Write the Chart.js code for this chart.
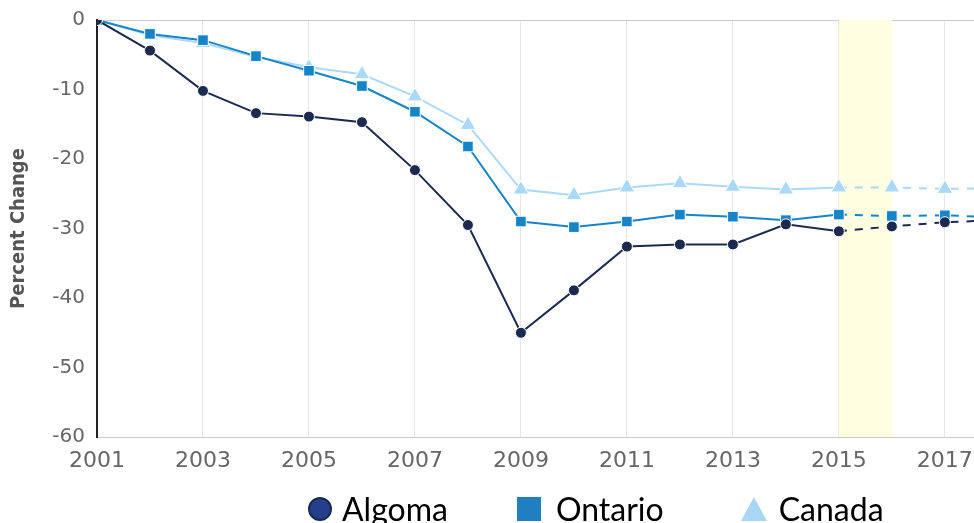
<!DOCTYPE html>
<html>
<head>
<meta charset="utf-8">
<script src="https://cdn.jsdelivr.net/npm/chart.js@4"></script>
<style>
  html, body { margin: 0; padding: 0; background: #fff; overflow: hidden; }
  #wrap { width: 974px; height: 523px; position: relative; }
  #legend { position: absolute; top: 493px; left: 308px; display: flex; align-items: center;
            font-family: Lato, sans-serif; font-size: 32px; line-height: 32px; color: #000; white-space: nowrap; }
  #legend .item { display: flex; align-items: center; }
  #legend .sym { width: 24px; height: 24px; box-sizing: border-box; }
  #legend .circle { border-radius: 50%; border: 2px solid #1b2a4e; }
  #legend .tri { width: 0; height: 0; border-left: 13px solid transparent; border-right: 13px solid transparent;
                 border-bottom: 24px solid; background: none !important; }
</style>
</head>
<body>
<div id="wrap"><canvas id="chart"></canvas><div id="legend"></div></div>
<script>
// Percent change since 2001
const years = [2001, 2002, 2003, 2004, 2005, 2006, 2007, 2008, 2009, 2010, 2011, 2012, 2013, 2014, 2015, 2016, 2017, 2018];
const algoma  = [0, -4.4, -10.2, -13.4, -13.9, -14.7, -21.6, -29.5, -45.0, -38.9, -32.6, -32.3, -32.3, -29.4, -30.4, -29.7, -29.1, -28.8];
const ontario = [0, -2.0, -2.9, -5.2, -7.3, -9.5, -13.2, -18.2, -29.0, -29.8, -29.0, -28.0, -28.3, -28.8, -28.0, -28.2, -28.1, -28.4];
const canada  = [0, -2.2, -3.3, -5.3, -6.8, -7.8, -11.0, -15.1, -24.4, -25.2, -24.1, -23.5, -24.0, -24.4, -24.1, -24.1, -24.3, -24.2];
const seriesNames = ['Algoma', 'Ontario', 'Canada'];
const xTicks = [2001, 2003, 2005, 2007, 2009, 2011, 2013, 2015, 2017];
const yTicks = [0, -10, -20, -30, -40, -50, -60];
const highlight = [2015, 2016];
const projectedFrom = 2015;

const lineColors = ['#1b2a4e', '#1684c6', '#aad9f7'];
const legendColors = ['#263f8c', '#1f7fc0', '#aad6f5'];
const shapes = ['circle', 'rect', 'triangle'];

function toPoints(vals) {
    return years.map((y, i) => ({ x: y, y: vals[i] }));
}

// dashed from the projection start year on
const dashAfter = {
    borderDash: ctx => ctx.p0.parsed.x >= projectedFrom ? [8, 8] : undefined
};

const bandPlugin = {
    id: 'band',
    beforeDatasetsDraw(chart) {
        const { ctx, chartArea, scales } = chart;
        const x0 = scales.x.getPixelForValue(highlight[0]);
        const x1 = scales.x.getPixelForValue(highlight[1]);
        ctx.save();
        ctx.fillStyle = '#fefee0';
        ctx.fillRect(x0, chartArea.top, x1 - x0, chartArea.bottom - chartArea.top);
        ctx.restore();
    }
};

// html legend
const legendEl = document.getElementById('legend');
const gaps = [10, 15, 12];
const after = [69, 77, 0];
seriesNames.forEach((name, i) => {
    const item = document.createElement('div');
    item.className = 'item';
    item.style.marginRight = after[i] + 'px';
    const sym = document.createElement('div');
    sym.className = 'sym ' + (shapes[i] === 'rect' ? '' : shapes[i] === 'circle' ? 'circle' : 'tri');
    if (shapes[i] === 'triangle') sym.style.borderBottomColor = legendColors[i];
    else sym.style.background = legendColors[i];
    sym.style.marginRight = gaps[i] + 'px';
    const txt = document.createElement('span');
    txt.innerText = name;
    item.appendChild(sym);
    item.appendChild(txt);
    legendEl.appendChild(item);
});

const sizes = [5.5, 7.5, 9];
const series = [algoma, ontario, canada];

new Chart(document.getElementById('chart'), {
    type: 'line',
    data: {
        datasets: series.map((vals, i) => ({
            label: seriesNames[i],
            data: toPoints(vals),
            borderColor: lineColors[i],
            backgroundColor: lineColors[i],
            borderWidth: 2,
            pointStyle: shapes[i],
            pointRadius: sizes[i],
            pointBorderColor: '#fff',
            pointBorderWidth: 1,
            segment: dashAfter
        }))
    },
    options: {
        responsive: true,
        maintainAspectRatio: false,
        animation: false,
        layout: { autoPadding: false, padding: { top: 20, right: 0, left: 0, bottom: 0 } },
        plugins: {
            tooltip: { enabled: false },
            legend: { display: false }
        },
        scales: {
            x: {
                type: 'linear',
                min: 2001,
                max: 2017.55,
                afterBuildTicks: s => { s.ticks = xTicks.map(v => ({ value: v })); },
                afterFit: s => { s.height = 86; s.paddingRight = 0; s.paddingLeft = 0; },
                grid: { color: '#e6e6e6', drawTicks: false },
                border: { color: '#cccccc', width: 1 },
                ticks: {
                    callback: v => String(v),
                    color: '#666',
                    padding: 11,
                    maxRotation: 0,
                    font: { family: 'DejaVu Sans', size: 22 }
                }
            },
            y: {
                min: -60,
                max: 0,
                afterBuildTicks: s => { s.ticks = yTicks.map(v => ({ value: v })); },
                afterFit: s => { s.width = 97; s.paddingTop = 0; s.paddingBottom = 0; },
                grid: {
                    drawTicks: false,
                    color: ctx => ctx.tick && ctx.tick.value === 0 ? '#cccccc' : 'rgba(0,0,0,0)'
                },
                border: { color: '#222', width: 2 },
                ticks: {
                    color: '#666',
                    padding: 12,
                    font: { family: 'DejaVu Sans', size: 20 }
                },
                title: {
                    display: true,
                    text: 'Percent Change',
                    color: '#555',
                    font: { family: "'DejaVu Sans Condensed', 'Liberation Sans Narrow', 'Liberation Sans'", size: 20, weight: 'bold' },
                    padding: { top: 7, bottom: 0 }
                }
            }
        }
    },
    plugins: [bandPlugin]
});
</script>
</body>
</html>
